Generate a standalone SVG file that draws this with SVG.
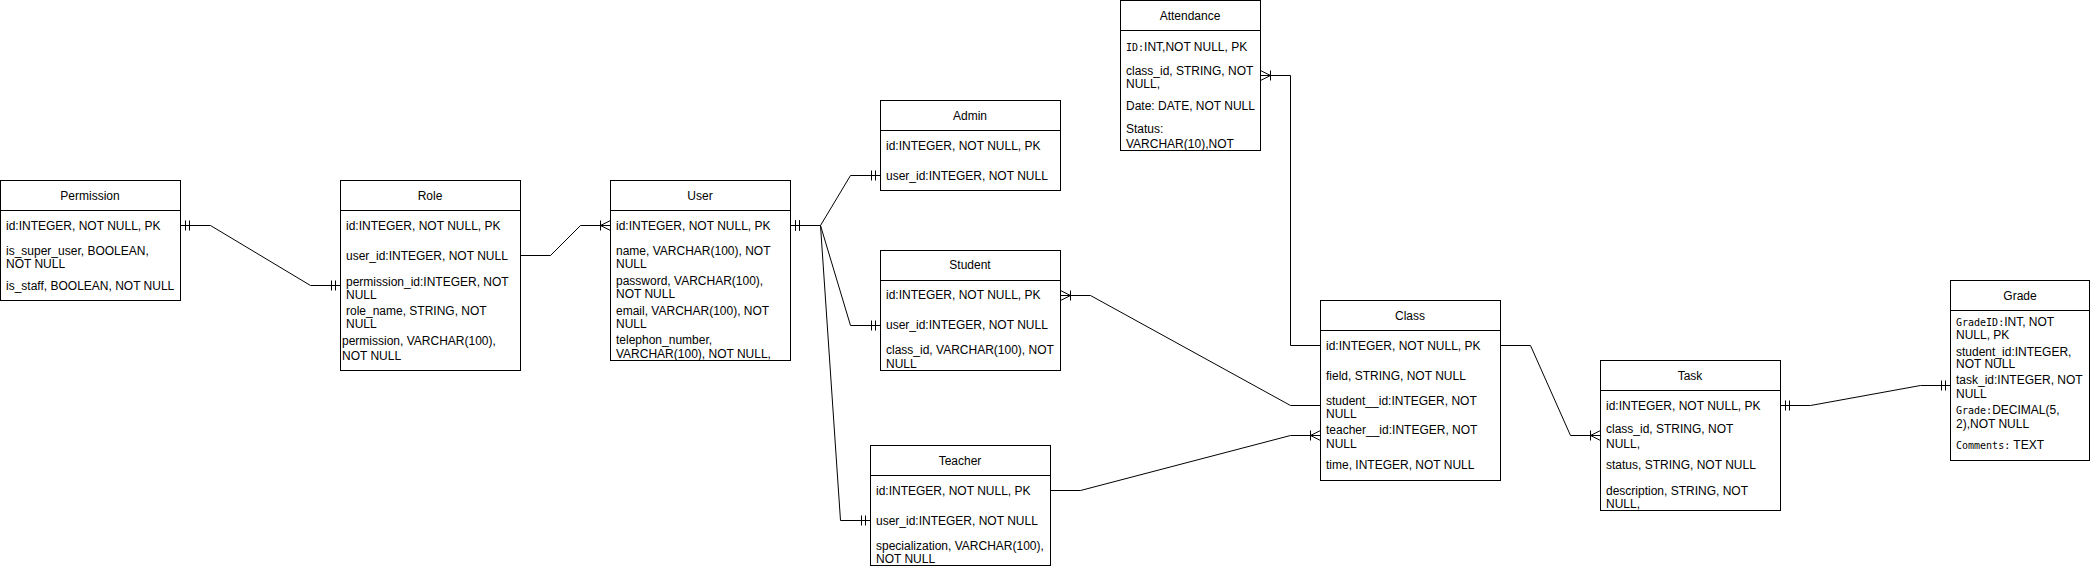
<svg xmlns="http://www.w3.org/2000/svg" width="2091" height="566" viewBox="0 0 2091 566">
<style>
.b{fill:#fff;stroke:#000;stroke-width:1}
.l{stroke:#000;stroke-width:1}
.t{font-family:"Liberation Sans",Arial,sans-serif;font-size:12px;fill:#000}
.h{text-anchor:middle}
.m{font-family:"DejaVu Sans Mono","Liberation Mono",monospace;font-size:10px}
.c{fill:none;stroke:#000;stroke-width:1}
.mk{fill:none;stroke:#000;stroke-width:1}
</style>
<defs>
<marker id="one" markerUnits="userSpaceOnUse" orient="auto-start-reverse" overflow="visible" refX="0" refY="0" markerWidth="1" markerHeight="1"><path class="mk" d="M-5,-5V5M-9,-5V5"/></marker>
<marker id="many" markerUnits="userSpaceOnUse" orient="auto-start-reverse" overflow="visible" refX="0" refY="0" markerWidth="1" markerHeight="1"><path class="mk" d="M0,-5L-10,0L0,5M-10,-5V5"/></marker>
<clipPath id="cpRole"><rect x="341" y="211" width="179" height="159"/></clipPath>
<clipPath id="cpUser"><rect x="611" y="211" width="179" height="149"/></clipPath>
<clipPath id="cpStudent"><rect x="881" y="281" width="179" height="89"/></clipPath>
<clipPath id="cpTeacher"><rect x="871" y="476" width="179" height="89"/></clipPath>
<clipPath id="cpAtt"><rect x="1121" y="31" width="139" height="119"/></clipPath>
<clipPath id="cpTask"><rect x="1601" y="391" width="179" height="119"/></clipPath>
<clipPath id="cpGrade"><rect x="1951" y="311" width="138" height="149"/></clipPath>
</defs>

<g id="connectors">
<path class="c" d="M180.5,225.5H210.5L310.5,285.5H340.5" marker-start="url(#one)" marker-end="url(#one)"/>
<path class="c" d="M520.5,255.5H550.5L580.5,225.5H610.5" marker-end="url(#many)"/>
<path class="c" d="M790.5,225.5H820.5L850.5,175.5H880.5" marker-start="url(#one)" marker-end="url(#one)"/>
<path class="c" d="M790.5,225.5H820.5L850.5,325.5H880.5" marker-start="url(#one)" marker-end="url(#one)"/>
<path class="c" d="M790.5,225.5H820.5L840.5,520.5H870.5" marker-start="url(#one)" marker-end="url(#one)"/>
<path class="c" d="M1060.5,295.5H1090.5L1290.5,405.5H1320.5" marker-start="url(#many)"/>
<path class="c" d="M1260.5,75.5H1290.5V345.5H1320.5" marker-start="url(#many)"/>
<path class="c" d="M1050.5,490.5H1080.5L1290.5,435.5H1320.5" marker-end="url(#many)"/>
<path class="c" d="M1500.5,345.5H1530.5L1570.5,435.5H1600.5" marker-end="url(#many)"/>
<path class="c" d="M1780.5,405.5H1810.5L1920.5,385.5H1950.5" marker-start="url(#one)" marker-end="url(#one)"/>
</g>

<g id="permission">
<rect class="b" x="0.5" y="180.5" width="180" height="120"/>
<line class="l" x1="0.5" y1="210.5" x2="180.5" y2="210.5"/>
<text class="t h" x="90" y="199.5">Permission</text>
<text class="t" x="6" y="229.5">id:INTEGER, NOT NULL, PK</text>
<text class="t" x="6" y="254.5">is_super_user, BOOLEAN,</text>
<text class="t" x="6" y="267.8">NOT NULL</text>
<text class="t" x="6" y="289.5">is_staff, BOOLEAN, NOT NULL</text>
</g>

<g id="role">
<rect class="b" x="340.5" y="180.5" width="180" height="190"/>
<line class="l" x1="340.5" y1="210.5" x2="520.5" y2="210.5"/>
<text class="t h" x="430" y="199.5">Role</text>
<g clip-path="url(#cpRole)">
<text class="t" x="346" y="229.5">id:INTEGER, NOT NULL, PK</text>
<text class="t" x="346" y="259.5">user_id:INTEGER, NOT NULL</text>
<text class="t" x="346" y="286">permission_id:INTEGER, NOT</text>
<text class="t" x="346" y="299">NULL</text>
<text class="t" x="346" y="314.5">role_name, STRING, NOT</text>
<text class="t" x="346" y="327.8">NULL</text>
<text class="t" x="342" y="345">permission, VARCHAR(100),</text>
<text class="t" x="342" y="360">NOT NULL</text>
</g>
</g>

<g id="user">
<rect class="b" x="610.5" y="180.5" width="180" height="180"/>
<line class="l" x1="610.5" y1="210.5" x2="790.5" y2="210.5"/>
<text class="t h" x="700" y="199.5">User</text>
<g clip-path="url(#cpUser)">
<text class="t" x="616" y="229.5">id:INTEGER, NOT NULL, PK</text>
<text class="t" x="616" y="254.5">name, VARCHAR(100), NOT</text>
<text class="t" x="616" y="267.8">NULL</text>
<text class="t" x="616" y="284.5">password, VARCHAR(100),</text>
<text class="t" x="616" y="297.8">NOT NULL</text>
<text class="t" x="616" y="314.5">email, VARCHAR(100), NOT</text>
<text class="t" x="616" y="327.8">NULL</text>
<text class="t" x="616" y="343.8">telephon_number,</text>
<text class="t" x="616" y="357.8">VARCHAR(100), NOT NULL,</text>
</g>
</g>

<g id="admin">
<rect class="b" x="880.5" y="100.5" width="180" height="90"/>
<line class="l" x1="880.5" y1="130.5" x2="1060.5" y2="130.5"/>
<text class="t h" x="970" y="119.5">Admin</text>
<text class="t" x="886" y="149.5">id:INTEGER, NOT NULL, PK</text>
<text class="t" x="886" y="179.5">user_id:INTEGER, NOT NULL</text>
</g>

<g id="student">
<rect class="b" x="880.5" y="250.5" width="180" height="120"/>
<line class="l" x1="880.5" y1="280.5" x2="1060.5" y2="280.5"/>
<text class="t h" x="970" y="269">Student</text>
<g clip-path="url(#cpStudent)">
<text class="t" x="886" y="299">id:INTEGER, NOT NULL, PK</text>
<text class="t" x="886" y="329">user_id:INTEGER, NOT NULL</text>
<text class="t" x="886" y="354">class_id, VARCHAR(100), NOT</text>
<text class="t" x="886" y="367.5">NULL</text>
</g>
</g>

<g id="teacher">
<rect class="b" x="870.5" y="445.5" width="180" height="120"/>
<line class="l" x1="870.5" y1="475.5" x2="1050.5" y2="475.5"/>
<text class="t h" x="960" y="464.5">Teacher</text>
<g clip-path="url(#cpTeacher)">
<text class="t" x="876" y="495">id:INTEGER, NOT NULL, PK</text>
<text class="t" x="876" y="524.5">user_id:INTEGER, NOT NULL</text>
<text class="t" x="876" y="549.5">specialization, VARCHAR(100),</text>
<text class="t" x="876" y="562.5">NOT NULL</text>
</g>
</g>

<g id="attendance">
<rect class="b" x="1120.5" y="0.5" width="140" height="150"/>
<line class="l" x1="1120.5" y1="30.5" x2="1260.5" y2="30.5"/>
<text class="t h" x="1190" y="19.5">Attendance</text>
<g clip-path="url(#cpAtt)">
<text class="t" x="1126" y="51"><tspan class="m">ID:</tspan>INT,NOT NULL, PK</text>
<text class="t" x="1126" y="74.5">class_id, STRING, NOT</text>
<text class="t" x="1126" y="87.8">NULL,</text>
<text class="t" x="1126" y="109.5">Date: DATE, NOT NULL</text>
<text class="t" x="1126" y="132.8">Status:</text>
<text class="t" x="1126" y="148.3">VARCHAR(10),NOT</text>
</g>
</g>

<g id="class">
<rect class="b" x="1320.5" y="300.5" width="180" height="180"/>
<line class="l" x1="1320.5" y1="330.5" x2="1500.5" y2="330.5"/>
<text class="t h" x="1410" y="319.5">Class</text>
<text class="t" x="1326" y="349.5">id:INTEGER, NOT NULL, PK</text>
<text class="t" x="1326" y="379.5">field, STRING, NOT NULL</text>
<text class="t" x="1326" y="404.5">student__id:INTEGER, NOT</text>
<text class="t" x="1326" y="417.8">NULL</text>
<text class="t" x="1326" y="433.8">teacher__id:INTEGER, NOT</text>
<text class="t" x="1326" y="447.8">NULL</text>
<text class="t" x="1326" y="468.8">time, INTEGER, NOT NULL</text>
</g>

<g id="task">
<rect class="b" x="1600.5" y="360.5" width="180" height="150"/>
<line class="l" x1="1600.5" y1="390.5" x2="1780.5" y2="390.5"/>
<text class="t h" x="1690" y="379.5">Task</text>
<g clip-path="url(#cpTask)">
<text class="t" x="1606" y="409.5">id:INTEGER, NOT NULL, PK</text>
<text class="t" x="1606" y="432.8">class_id, STRING, NOT</text>
<text class="t" x="1606" y="447.8">NULL,</text>
<text class="t" x="1606" y="468.5">status, STRING, NOT NULL</text>
<text class="t" x="1606" y="494.5">description, STRING, NOT</text>
<text class="t" x="1606" y="507.8">NULL,</text>
</g>
</g>

<g id="grade">
<rect class="b" x="1950.5" y="280.5" width="139" height="180"/>
<line class="l" x1="1950.5" y1="310.5" x2="2089.5" y2="310.5"/>
<text class="t h" x="2020" y="299.5">Grade</text>
<g clip-path="url(#cpGrade)">
<text class="t" x="1956" y="326"><tspan class="m">GradeID:</tspan>INT, NOT</text>
<text class="t" x="1956" y="339.3">NULL, PK</text>
<text class="t" x="1956" y="356">student_id:INTEGER,</text>
<text class="t" x="1956" y="368">NOT NULL</text>
<text class="t" x="1956" y="384.3">task_id:INTEGER, NOT</text>
<text class="t" x="1956" y="397.8">NULL</text>
<text class="t" x="1956" y="413.5"><tspan class="m">Grade:</tspan>DECIMAL(5,</text>
<text class="t" x="1956" y="427.8">2),NOT NULL</text>
<text class="t" x="1956" y="449"><tspan class="m">Comments:</tspan> TEXT</text>
</g>
</g>
</svg>
